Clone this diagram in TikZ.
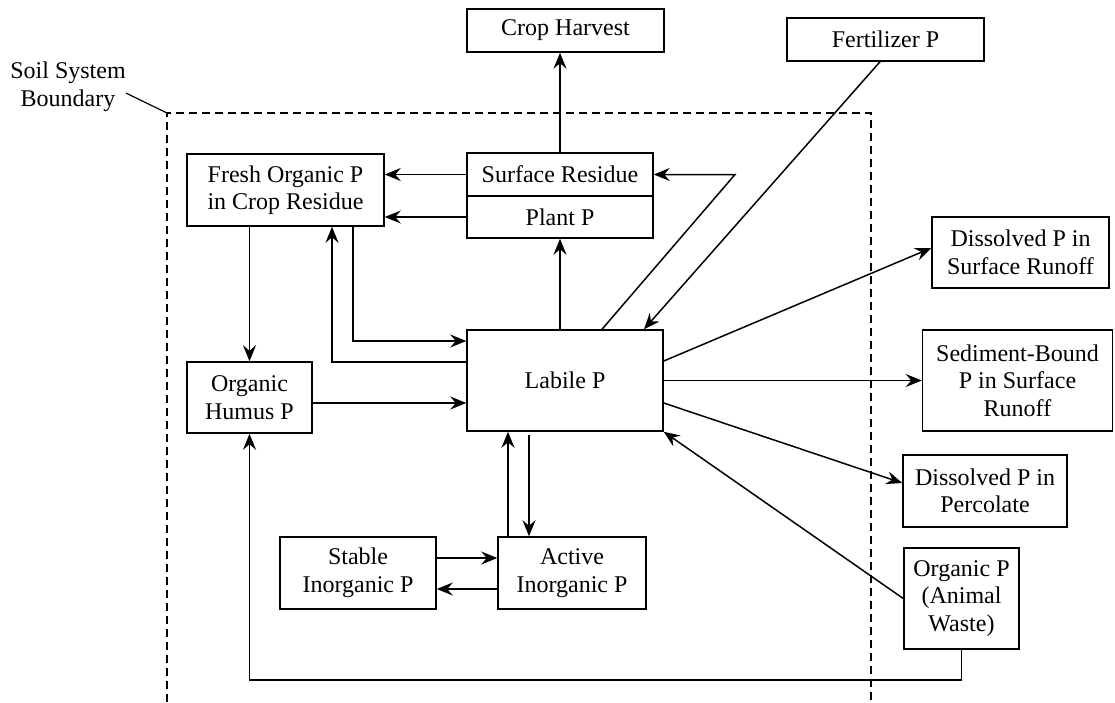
\documentclass[tikz,border=0pt]{standalone}
\usepackage{fontspec}
\setmainfont{Liberation Serif}
\usetikzlibrary{arrows.meta}
\begin{document}
\begin{tikzpicture}[x=1pt,y=-1pt,
  every node/.style={font=\fontsize{24}{27.5}\selectfont, align=center, inner sep=0pt},
  box/.style={draw, line width=1.5pt, minimum width=#1},
  flow/.style={line width=1.5pt, -{Stealth[length=16pt,width=13pt,inset=5.5pt]}},
  bound/.style={line width=1.6pt, dash pattern=on 8pt off 5pt}]
\useasboundingbox (0,0) rectangle (1115,702);

% boundary
\coordinate (bl) at (167,702);
\coordinate (bnd) at (167,113);
\coordinate (btr) at (871,113);
\coordinate (br) at (871,702);
\draw[bound] (bl) -- (bnd) -- (btr) -- (br);
\node (soil) at (68,87) {Soil System\\Boundary};
\draw[line width=1.2pt] ([yshift=-6pt]soil.east) -- (bnd);

% nodes
\node[box=197pt, minimum height=43pt] (harvest) at (565.5,30.5) {Crop Harvest};
\node[box=197pt, minimum height=43pt] (fert) at (885.5,39.5) {Fertilizer P};
\node[box=197pt, minimum height=72pt] (fresh) at (285.5,190) {Fresh Organic P\\in Crop Residue};
\node[box=186pt, minimum height=43pt] (surf) at (560,174.5) {Surface Residue};
\node[box=186pt, minimum height=42pt] (plant) at (560,217) {Plant P};
\node[box=125pt, minimum height=71pt] (humus) at (249.5,397.5) {Organic\\Humus P};
\node[box=196pt, minimum height=101pt] (lab) at (565,380.5) {Labile P};
\node[box=156pt, minimum height=72pt] (stable) at (358,573) {Stable\\Inorganic P};
\node[box=148pt, minimum height=72pt] (active) at (572,573) {Active\\Inorganic P};
\node[box=177pt, minimum height=71pt] (dsr) at (1020.5,252.5) {Dissolved P in\\Surface Runoff};
\node[box=190pt, minimum height=101pt] (sed) at (1017.5,380.5) {Sediment-Bound\\P in Surface\\Runoff};
\node[box=164pt, minimum height=72pt] (perc) at (985,491) {Dissolved P in\\Percolate};
\node[box=115pt, minimum height=101pt] (waste) at (961.5,598.5) {Organic P\\(Animal\\Waste)};

% connectors
\draw[flow] (surf.north) -- (surf.north |- harvest.south);
\draw[flow] (surf.west) -- (surf.west -| fresh.east);
\draw[flow] (plant.west) -- (plant.west -| fresh.east);
\draw[flow] (plant.south |- lab.north) -- (plant.south);
\coordinate (apex) at (735,174.5);
\draw[flow] ([xshift=37pt]lab.north) -- (apex) -- (surf.east);
\draw[flow] ([xshift=-5.5pt]fert.south) -- ([xshift=79pt]lab.north);
\draw[flow] ([xshift=67.5pt]fresh.south) |- ([yshift=39.5pt]lab.west);
\draw[flow] ([yshift=18.5pt]lab.west) -| ([xshift=46.5pt]fresh.south);
\draw[flow] (humus.north |- fresh.south) -- (humus.north);
\draw[flow] ([yshift=-5.5pt]humus.east) -- ([yshift=-5.5pt]humus.east -| lab.west);
\draw[flow] ([xshift=-64pt]active.north) -- ([xshift=-64pt]active.north |- lab.south);
\draw[flow] ([xshift=-36pt,yshift=-3pt]lab.south) -- ([xshift=-43pt]active.north);
\draw[flow] ([yshift=15pt]stable.east) -- ([yshift=15pt]stable.east -| active.west);
\draw[flow] ([yshift=-16pt]active.west) -- ([yshift=-16pt]active.west -| stable.east);
\draw[flow] (waste.south) -- ++(0,30) -| (humus.south);
\draw[flow] (waste.west) -- (lab.south east);
\draw[flow] ([yshift=19.5pt]lab.east) -- ([yshift=4.5pt]dsr.west);
\draw[flow] (lab.east) -- (sed.west);
\draw[flow] ([yshift=-22.5pt]lab.east) -- ([yshift=8pt]perc.west);
\end{tikzpicture}
\end{document}
